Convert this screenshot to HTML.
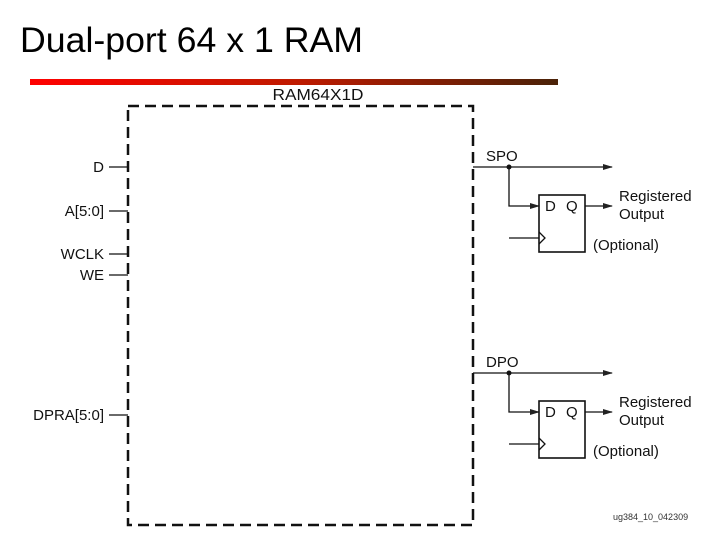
<!DOCTYPE html>
<html><head><style>body{margin:0;background:#fff}svg{display:block}</style></head><body>
<svg width="720" height="540" xmlns="http://www.w3.org/2000/svg" font-family="Liberation Sans, sans-serif">
<defs>
<linearGradient id="g" x1="0" x2="1"><stop offset="0" stop-color="#f00"/><stop offset="0.5" stop-color="#c01a00"/><stop offset="1" stop-color="#4a2208"/></linearGradient>
<marker id="a" markerWidth="10" markerHeight="8" refX="9" refY="4" orient="auto" markerUnits="userSpaceOnUse"><path d="M0,1 L10,4 L0,7z" fill="#222"/></marker>
</defs>
<text x="20" y="52" font-size="35" textLength="343" lengthAdjust="spacingAndGlyphs" fill="#000">Dual-port 64 x 1 RAM</text>
<rect x="30" y="79" width="528" height="6" fill="url(#g)"/>
<text x="318" y="100" font-size="16" text-anchor="middle" fill="#111" textLength="91" lengthAdjust="spacingAndGlyphs">RAM64X1D</text>
<rect x="128" y="106" width="345" height="419" fill="none" stroke="#111" stroke-width="2.5" stroke-dasharray="11,6"/>
<g font-size="15" fill="#111" text-anchor="end">
<text x="104" y="172">D</text><text x="104" y="216">A[5:0]</text><text x="104" y="259">WCLK</text><text x="104" y="280">WE</text><text x="104" y="420">DPRA[5:0]</text>
</g>
<g stroke="#111" stroke-width="1.3">
<line x1="109" y1="167" x2="128" y2="167"/><line x1="109" y1="211" x2="128" y2="211"/><line x1="109" y1="254" x2="128" y2="254"/><line x1="109" y1="275" x2="128" y2="275"/><line x1="109" y1="415" x2="128" y2="415"/>
</g>
<g id="p">
<g stroke="#111" stroke-width="1.3" fill="none">
<line x1="473" y1="167" x2="612" y2="167" marker-end="url(#a)"/>
<polyline points="509,167 509,206 539,206" marker-end="url(#a)"/>
<rect x="539" y="195" width="46" height="57" stroke-width="1.6"/>
<line x1="585" y1="206" x2="612" y2="206" marker-end="url(#a)"/>
<line x1="509" y1="238" x2="539" y2="238"/>
<polyline points="539,232 545,238 539,244"/>
</g>
<circle cx="509" cy="167" r="2.5" fill="#111"/>
<g font-size="15" fill="#111"><text x="545" y="211">D</text><text x="566" y="211">Q</text>
<text x="619" y="201">Registered</text><text x="619" y="219">Output</text><text x="593" y="250">(Optional)</text></g>
</g>
<text x="486" y="161" font-size="15" fill="#111">SPO</text>
<use href="#p" y="206"/>
<text x="486" y="367" font-size="15" fill="#111">DPO</text>
<text x="613" y="520" font-size="9" fill="#333">ug384_10_042309</text>
</svg>
</body></html>
